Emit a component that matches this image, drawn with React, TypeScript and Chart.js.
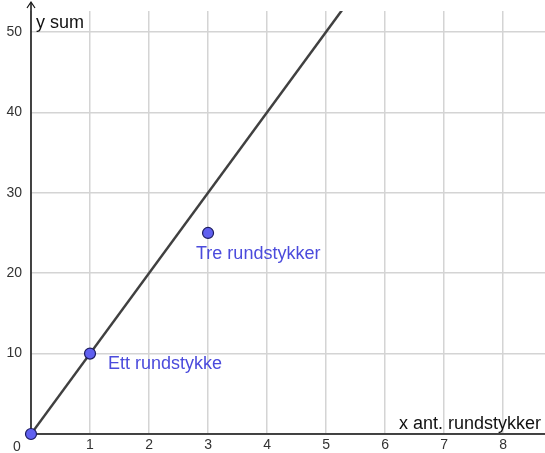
import React, { useEffect, useRef } from "react";
import { Chart, registerables } from "chart.js";

Chart.register(...registerables);

const lineX = [0, 6];
const lineY = [0, 60];
const pointsX = [0, 1, 3];
const pointsY = [0, 10, 25];
const pointLabels = ["", "Ett rundstykke", "Tre rundstykker"];
const xTicks = [1, 2, 3, 4, 5, 6, 7, 8];
const yTicks = [10, 20, 30, 40, 50];
const xTitle = "x ant. rundstykker";
const yTitle = "y sum";

export default function App() {
  const ref = useRef<HTMLCanvasElement | null>(null);
  useEffect(() => {
    if (!ref.current) return;
    const font = "Liberation Sans, Arial, sans-serif";
    const overlay = {
      id: "overlay",
      afterDatasetsDraw(chart: any) {
        const ctx = chart.ctx;
        const xs = chart.scales.x;
        const ys = chart.scales.y;
        const x0 = xs.getPixelForValue(0);
        const y0 = ys.getPixelForValue(0);
        ctx.save();
        ctx.strokeStyle = "#111";
        ctx.lineWidth = 1.5;
        ctx.beginPath();
        ctx.moveTo(x0, y0);
        ctx.lineTo(x0, 3);
        ctx.moveTo(x0, y0);
        ctx.lineTo(chart.width, y0);
        ctx.stroke();
        ctx.lineWidth = 1.2;
        ctx.beginPath();
        ctx.moveTo(x0 - 4, 8);
        ctx.lineTo(x0, 2);
        ctx.lineTo(x0 + 4, 8);
        ctx.stroke();
        ctx.fillStyle = "#111";
        ctx.font = `18px ${font}`;
        ctx.textBaseline = "alphabetic";
        ctx.textAlign = "left";
        ctx.fillText(yTitle, x0 + 5, 28);
        ctx.textAlign = "right";
        ctx.fillText(xTitle, chart.width - 4, y0 - 5);
        ctx.font = `14px ${font}`;
        ctx.fillStyle = "#333";
        ctx.textAlign = "center";
        ctx.fillText("0", x0 - 14, y0 + 17);
        ctx.restore();
      },
      afterDraw(chart: any) {
        const ctx = chart.ctx;
        const xs = chart.scales.x;
        const ys = chart.scales.y;
        ctx.save();
        for (let i = 0; i < pointsX.length; i++) {
          const px = xs.getPixelForValue(pointsX[i]);
          const py = ys.getPixelForValue(pointsY[i]);
          ctx.beginPath();
          ctx.arc(px, py, 5.5, 0, Math.PI * 2);
          ctx.fillStyle = "#6060f0";
          ctx.fill();
          ctx.lineWidth = 1.2;
          ctx.strokeStyle = "#1c1c60";
          ctx.stroke();
        }
        ctx.font = `18px ${font}`;
        ctx.fillStyle = "#4b4bdc";
        ctx.textAlign = "left";
        ctx.textBaseline = "middle";
        const p1x = xs.getPixelForValue(pointsX[1]);
        const p1y = ys.getPixelForValue(pointsY[1]);
        ctx.fillText(pointLabels[1], p1x + 18, p1y + 10);
        const p2x = xs.getPixelForValue(pointsX[2]);
        const p2y = ys.getPixelForValue(pointsY[2]);
        ctx.fillText(pointLabels[2], p2x - 12, p2y + 21);
        ctx.restore();
      },
    };
    const chart = new Chart(ref.current, {
      type: "scatter",
      data: {
        datasets: [
          {
            type: "line",
            data: lineX.map((x, i) => ({ x, y: lineY[i] })),
            borderColor: "#404040",
            borderWidth: 2.5,
            pointRadius: 0,
            fill: false,
          },
        ],
      },
      plugins: [overlay],
      options: {
        animation: false,
        responsive: false,
        maintainAspectRatio: false,
        layout: { padding: { left: 0, right: 0, top: 11, bottom: 0 } },
        plugins: { legend: { display: false }, tooltip: { enabled: false } },
        scales: {
          x: {
            type: "linear",
            min: 0,
            max: 8.71,
            afterBuildTicks: (s: any) => {
              s.ticks = [0, ...xTicks].map((v) => ({ value: v }));
            },
            afterFit: (s: any) => {
              s.height = 19;
              s.paddingLeft = 0;
              s.paddingRight = 0;
              s.paddingTop = 0;
              s.paddingBottom = 0;
            },
            ticks: {
              callback: (v: any) => (v === 0 ? "" : String(v)),
              color: "#333",
              font: { size: 14, family: font },
              padding: 3,
              maxRotation: 0,
            },
            grid: { color: "#d4d4d4", lineWidth: 1.5, drawTicks: false },
            border: { display: false },
          },
          y: {
            type: "linear",
            min: 0,
            max: 52.6,
            afterBuildTicks: (s: any) => {
              s.ticks = [0, ...yTicks].map((v) => ({ value: v }));
            },
            afterFit: (s: any) => {
              s.width = 31;
              s.paddingLeft = 0;
              s.paddingRight = 0;
              s.paddingTop = 0;
              s.paddingBottom = 0;
            },
            ticks: {
              callback: (v: any) => (v === 0 ? "" : String(v)),
              color: "#333",
              font: { size: 14, family: font },
              padding: 9,
            },
            grid: { color: "#d4d4d4", lineWidth: 1.5, drawTicks: false },
            border: { display: false },
          },
        },
      },
    });
    return () => chart.destroy();
  }, []);
  return (
    <div style={{ position: "fixed", left: 0, top: 0, width: 545, height: 453, background: "#fff" }}>
      <canvas ref={ref} width={545} height={453} style={{ width: 545, height: 453 }} />
    </div>
  );
}
